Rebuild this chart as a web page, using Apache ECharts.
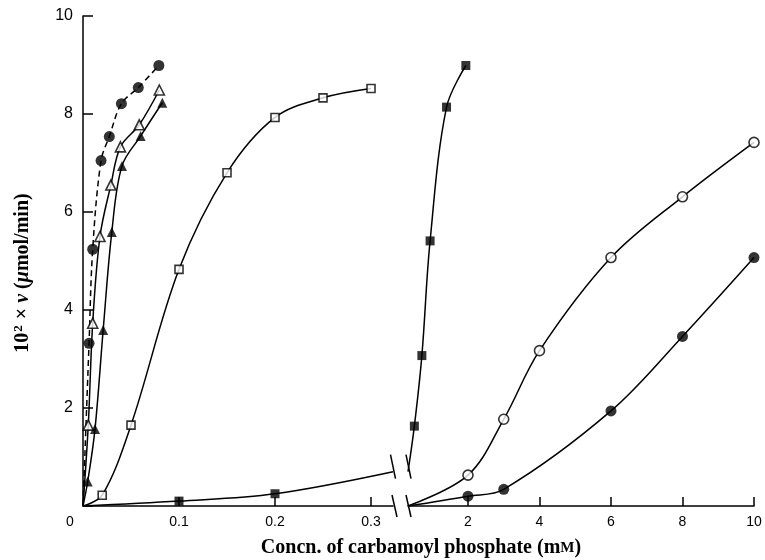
<!DOCTYPE html>
<html><head><meta charset="utf-8">
<script src="https://cdn.jsdelivr.net/npm/echarts@6/dist/echarts.min.js"></script>
<style>html,body{margin:0;padding:0;background:#fff}#c{width:765px;height:560px}</style>
</head><body><div id="c"></div>
<script>
// ---------- data (left panel: 0 – 0.32 mM) ----------
const dashedCircleX = [0.0063, 0.0101, 0.0188, 0.0274, 0.040, 0.0576, 0.079];
const dashedCircleY = [3.32, 5.24, 7.05, 7.54, 8.21, 8.54, 8.99];
const openTriX = [0.0055, 0.0101, 0.0177, 0.029, 0.039, 0.0586, 0.0795];
const openTriY = [1.65, 3.73, 5.50, 6.55, 7.33, 7.78, 8.49];
const filledTriX = [0.0049, 0.0125, 0.021, 0.030, 0.0406, 0.060, 0.0826];
const filledTriY = [0.50, 1.57, 3.59, 5.59, 6.94, 7.55, 8.23];
const openSqX = [0.02, 0.05, 0.10, 0.15, 0.20, 0.25, 0.30];
const openSqY = [0.22, 1.65, 4.83, 6.80, 7.93, 8.33, 8.52];
const filledSqLeftX = [0.10, 0.20];
const filledSqLeftY = [0.10, 0.25];
// ---------- data (right panel: 0.32 – 10 mM) ----------
const filledSqRightX = [0.50, 0.71, 0.94, 1.40, 1.94];
const filledSqRightY = [1.63, 3.07, 5.41, 8.14, 8.99];
const openCircX = [2, 3, 4, 6, 8, 10];
const openCircY = [0.63, 1.77, 3.17, 5.07, 6.31, 7.42];
const filledCircX = [2, 3, 6, 8, 10];
const filledCircY = [0.20, 0.34, 1.94, 3.46, 5.07];
// curve value at the axis break for the filled-square series
const breakCurveY = 0.70;
// ---------- axes ----------
const LEFT_MIN = 0, LEFT_MAX = 0.3229, RIGHT_MIN = 0.322, RIGHT_MAX = 10;
const leftTicks = [0, 0.1, 0.2, 0.3];
const rightTicks = [2, 4, 6, 8, 10];

const zip = (xs, ys) => xs.map((x, i) => [x, ys[i]]);
const SANS = 'Liberation Sans';
const SERIF = 'Liberation Serif';

const chart = echarts.init(document.getElementById('c'), null, {renderer: 'canvas'});

function lineSeries(gi, data, dashed) {
  return {type: 'line', xAxisIndex: gi, yAxisIndex: gi, data: data, showSymbol: false, symbol: 'none',
    smooth: 0.35, z: 2, silent: true,
    lineStyle: {color: '#000', width: 1.5, type: dashed ? [6, 4] : 'solid'}};
}
function scatterSeries(gi, data, symbol, size, filled) {
  return {type: 'scatter', xAxisIndex: gi, yAxisIndex: gi, data: data, symbol: symbol, symbolSize: size, z: 5,
    itemStyle: filled ? {color: '#000'} : {color: '#fff', borderColor: '#000', borderWidth: 1.6}};
}

const axisLineStyle = {color: '#000', width: 1.5};
function xAxisCfg(gi, min, max, ticks, labels) {
  return {type: 'value', gridIndex: gi, min: min, max: max,
    axisLine: {show: true, onZero: false, lineStyle: axisLineStyle},
    axisTick: {show: true, inside: true, length: 9, customValues: ticks, lineStyle: axisLineStyle},
    axisLabel: {customValues: labels, margin: 9, color: '#000', fontSize: 14, fontFamily: SANS,
      formatter: v => v === 0 ? '{o|0}' : (gi === 0 ? v.toFixed(1) : String(v)),
      rich: {o: {padding: [0, 26, 0, 0], fontSize: 14, fontFamily: SANS, color: '#000'}}},
    splitLine: {show: false}};
}

const option = {
  animation: false,
  backgroundColor: '#fff',
  grid: [
    {left: 83, top: 16, width: 310, height: 490},
    {left: 408, top: 16, width: 346, height: 490}
  ],
  xAxis: [
    xAxisCfg(0, LEFT_MIN, LEFT_MAX, leftTicks.filter(v => v > 0), leftTicks),
    xAxisCfg(1, RIGHT_MIN, RIGHT_MAX, rightTicks, rightTicks)
  ],
  yAxis: [
    {type: 'value', gridIndex: 0, min: 0, max: 10, interval: 2,
      axisLine: {show: true, onZero: false, lineStyle: axisLineStyle},
      axisTick: {show: true, inside: true, length: 10, lineStyle: axisLineStyle},
      axisLabel: {margin: 10, color: '#000', fontSize: 16, fontFamily: SANS,
        formatter: v => v === 0 ? '' : String(v)},
      splitLine: {show: false}},
    {type: 'value', gridIndex: 1, min: 0, max: 10, show: false, splitLine: {show: false}}
  ],
  series: [
    lineSeries(0, [[0, 0]].concat(zip(dashedCircleX, dashedCircleY)), true),
    lineSeries(0, [[0, 0]].concat(zip(openTriX, openTriY)), false),
    lineSeries(0, [[0, 0]].concat(zip(filledTriX, filledTriY)), false),
    lineSeries(0, [[0, 0]].concat(zip(openSqX, openSqY)), false),
    lineSeries(0, [[0, 0]].concat(zip(filledSqLeftX, filledSqLeftY), [[LEFT_MAX, breakCurveY]]), false),
    lineSeries(1, [[RIGHT_MIN, breakCurveY]].concat(zip(filledSqRightX, filledSqRightY)), false),
    lineSeries(1, [[RIGHT_MIN, 0]].concat(zip(openCircX, openCircY)), false),
    lineSeries(1, [[RIGHT_MIN, 0]].concat(zip(filledCircX, filledCircY)), false),
    scatterSeries(0, zip(dashedCircleX, dashedCircleY), 'circle', 11, true),
    scatterSeries(0, zip(openTriX, openTriY), 'triangle', 10, false),
    scatterSeries(0, zip(filledTriX, filledTriY), 'triangle', 10, true),
    scatterSeries(0, zip(openSqX, openSqY), 'rect', 8, false),
    scatterSeries(0, zip(filledSqLeftX, filledSqLeftY), 'rect', 9, true),
    scatterSeries(1, zip(filledSqRightX, filledSqRightY), 'rect', 9, true),
    scatterSeries(1, zip(openCircX, openCircY), 'circle', 10, false),
    scatterSeries(1, zip(filledCircX, filledCircY), 'circle', 11, true)
  ]
};
chart.setOption(option);

// decorations: axis titles and break marks
const pL0 = chart.convertToPixel({gridIndex: 0}, [LEFT_MAX, 0]);
const pR0 = chart.convertToPixel({gridIndex: 1}, [RIGHT_MIN, 0]);
const pLc = chart.convertToPixel({gridIndex: 0}, [LEFT_MAX, breakCurveY]);
const pRc = chart.convertToPixel({gridIndex: 1}, [RIGHT_MIN, breakCurveY]);
const yMid = (chart.convertToPixel({gridIndex: 0}, [0, 0])[1] + chart.convertToPixel({gridIndex: 0}, [0, 10])[1]) / 2;

function slash(cx, cy, h) {
  return {type: 'line', z: 20, shape: {x1: cx - 2.5, y1: cy - h, x2: cx + 2.5, y2: cy + h},
    style: {stroke: '#000', lineWidth: 1.5}};
}
const whiteGap = {type: 'rect', z: 15, shape: {x: pL0[0] + 1, y: pLc[1] - 14, width: pR0[0] - pL0[0] - 2, height: 28},
  style: {fill: '#fff'}};

chart.setOption({graphic: [
  {type: 'text', z: 30, x: 23, y: yMid + 12, rotation: Math.PI / 2,
    style: {text: '{n|10}{s|2}{n| × }{i|v}{n| (}{i|μ}{n|mol/min)}', align: 'center', verticalAlign: 'middle',
      rich: {n: {fontFamily: SERIF, fontWeight: 'bold', fontSize: 20, fill: '#000'},
             s: {fontFamily: SERIF, fontWeight: 'bold', fontSize: 13, fill: '#000', padding: [0, 1, 9, 1]},
             i: {fontFamily: SERIF, fontWeight: 'bold', fontStyle: 'italic', fontSize: 20, fill: '#000'}}}},
  {type: 'text', z: 30, x: 421, y: 548,
    style: {text: '{n|Concn. of carbamoyl phosphate (m}{s|M}{n|)}', align: 'center', verticalAlign: 'middle',
      rich: {n: {fontFamily: SERIF, fontWeight: 'bold', fontSize: 20, fill: '#000'},
             s: {fontFamily: SERIF, fontWeight: 'bold', fontSize: 15, fill: '#000'}}}},
  whiteGap,
  slash(pL0[0] + 1.5, pL0[1], 11),
  slash(pR0[0] + 0.5, pR0[1], 11),
  slash(pLc[0] + 0, pLc[1] - 5, 12),
  slash(pRc[0] + 0.5, pRc[1] - 5, 12)
]});
</script>
</body></html>
